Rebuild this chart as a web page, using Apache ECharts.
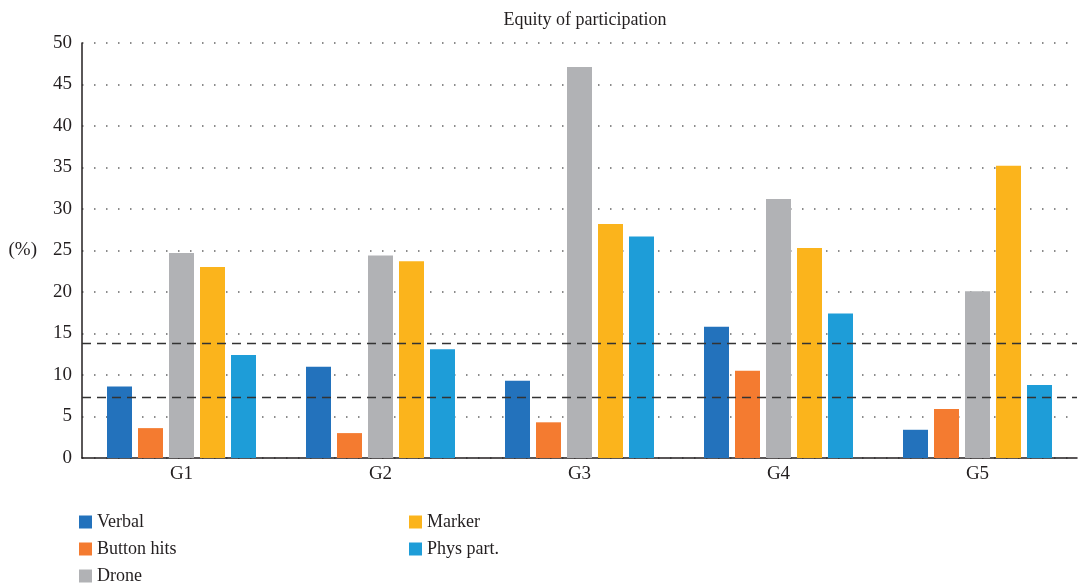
<!DOCTYPE html>
<html>
<head>
    <meta charset="utf-8">
    <title>Equity of participation</title>
    <script src="https://cdn.jsdelivr.net/npm/echarts@6/dist/echarts.min.js"></script>
</head>
<body style="margin:0">
    <div id="main" style="width: 1082px;height:585px;"></div>
    <script type="text/javascript">
    var groups = ['G1', 'G2', 'G3', 'G4', 'G5'];
    var verbal = [8.6, 11.0, 9.3, 15.8, 3.4];
    var buttonHits = [3.6, 3.0, 4.3, 10.5, 5.9];
    var drone = [24.7, 24.4, 47.1, 31.2, 20.1];
    var marker = [23.0, 23.7, 28.2, 25.3, 35.2];
    var physPart = [12.4, 13.1, 26.7, 17.4, 8.8];
    var refLines = [13.8, 7.3];

    var font = 'Liberation Serif';
    var ink = '#231f20';

    var myChart = echarts.init(document.getElementById('main'));

    function bar(name, data, color) {
        return {
            name: name,
            type: 'bar',
            data: data,
            barWidth: 25,
            barGap: '24%',
            itemStyle: { color: color }
        };
    }

    var series = [
        bar('Verbal', verbal, '#2372bc'),
        bar('Button hits', buttonHits, '#f47b30'),
        bar('Drone', drone, '#b1b2b5'),
        bar('Marker', marker, '#fbb41c'),
        bar('Phys part.', physPart, '#1e9dd8')
    ];
    series[0].markLine = {
        silent: true,
        symbol: 'none',
        label: { show: false },
        lineStyle: { color: '#333', type: [9, 6], width: 1.3 },
        data: refLines.map(function (v) { return { yAxis: v }; })
    };

    var legendText = { fontFamily: font, fontSize: 18, color: ink };

    option = {
        animation: false,
        textStyle: { fontFamily: font, color: ink },
        title: {
            text: 'Equity of participation',
            left: 580,
            textAlign: 'center',
            top: 6,
            textStyle: { fontFamily: font, fontSize: 18, fontWeight: 'normal', color: ink }
        },
        legend: [{
            data: ['Verbal', 'Button hits', 'Drone'],
            orient: 'vertical',
            left: 74,
            top: 508,
            height: 100,
            itemWidth: 13,
            itemHeight: 13,
            itemGap: 9,
            icon: 'rect',
            textStyle: legendText
        }, {
            data: ['Marker', 'Phys part.'],
            orient: 'vertical',
            left: 404,
            top: 508,
            height: 100,
            itemWidth: 13,
            itemHeight: 13,
            itemGap: 9,
            icon: 'rect',
            textStyle: legendText
        }],
        grid: { left: 82, right: 5, top: 43, bottom: 127, outerBoundsMode: 'none' },
        xAxis: {
            type: 'category',
            data: groups,
            axisLine: { lineStyle: { color: ink, width: 1.5 } },
            axisTick: { show: false },
            axisLabel: { fontFamily: font, fontSize: 19, color: ink, margin: 7 }
        },
        yAxis: {
            type: 'value',
            min: 0,
            max: 50,
            interval: 5,
            name: '(%)',
            nameLocation: 'middle',
            nameRotate: 0,
            nameGap: 45,
            nameTextStyle: { fontFamily: font, fontSize: 19, color: ink },
            axisLine: { show: true, lineStyle: { color: ink, width: 1.5 } },
            axisTick: { show: false },
            axisLabel: { fontFamily: font, fontSize: 19, color: ink, margin: 10 },
            splitLine: { lineStyle: { color: '#666', type: [1.5, 10.5], width: 1.5 } }
        },
        series: series
    };

    myChart.setOption(option);
    </script>
</body>
</html>
